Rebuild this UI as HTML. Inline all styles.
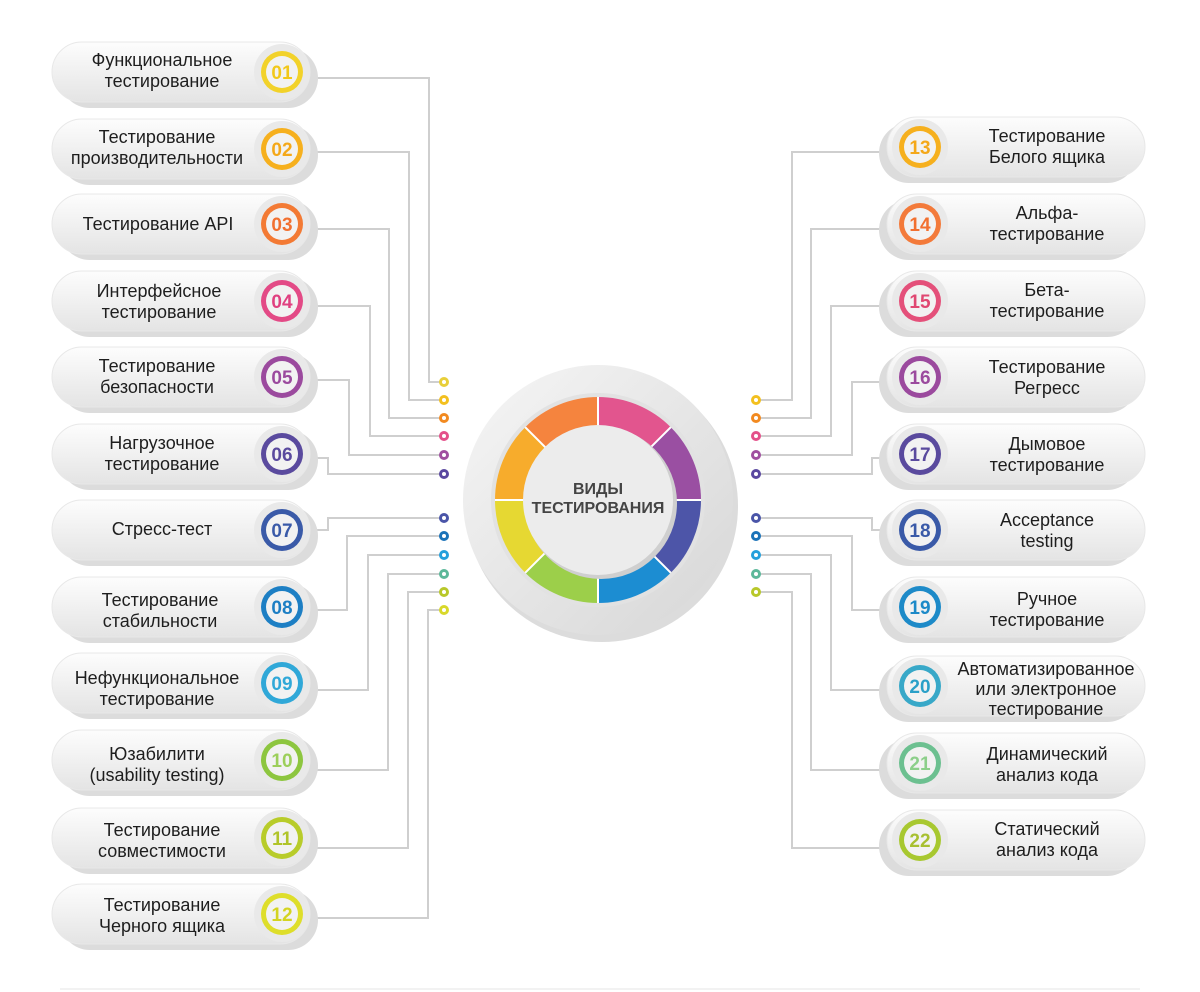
<!DOCTYPE html>
<html><head><meta charset="utf-8"><style>
html,body{margin:0;padding:0;background:#fff;}
svg{display:block;}
text{font-family:"Liberation Sans",sans-serif;}
.t{font-size:18px;fill:#1e1e1e;text-anchor:middle;}
.n{font-size:19px;font-weight:bold;text-anchor:middle;}
.l{fill:none;stroke:#cfcfcf;stroke-width:2;}
</style></head><body>
<svg width="1200" height="992" viewBox="0 0 1200 992">
<defs>
<linearGradient id="pg" x1="0" y1="0" x2="0" y2="1"><stop offset="0" stop-color="#fdfdfd"/><stop offset="1" stop-color="#e4e4e4"/></linearGradient>
<linearGradient id="og" x1="0" y1="0" x2="1" y2="1"><stop offset="0" stop-color="#f6f6f6"/><stop offset="1" stop-color="#d6d6d6"/></linearGradient>
<g id="pill"><rect x="8" y="6" width="258" height="60" rx="30" fill="#dcdcdc"/><rect x="0" y="0" width="258" height="60" rx="30" fill="url(#pg)" stroke="#e8e8e8"/></g>
<g id="pillR"><rect x="-8" y="6" width="258" height="60" rx="30" fill="#dcdcdc"/><rect x="0" y="0" width="258" height="60" rx="30" fill="url(#pg)" stroke="#e8e8e8"/></g>
</defs>
<rect x="60" y="988" width="1080" height="2" fill="#f2f2f2"/>

<path class="l" d="M312 78H429V382H444"/>
<path class="l" d="M312 152H409V400H444"/>
<path class="l" d="M312 229H389V418H444"/>
<path class="l" d="M312 306H370V436H444"/>
<path class="l" d="M312 380H349V455H444"/>
<path class="l" d="M312 458H328V474H444"/>
<path class="l" d="M312 530H328V518H444"/>
<path class="l" d="M312 610H347V536H444"/>
<path class="l" d="M312 690H368V555H444"/>
<path class="l" d="M312 770H388V574H444"/>
<path class="l" d="M312 848H408V592H444"/>
<path class="l" d="M312 918H428V610H444"/>
<path class="l" d="M756 400H792V152H886"/>
<path class="l" d="M756 418H811V229H886"/>
<path class="l" d="M756 436H831V306H886"/>
<path class="l" d="M756 455H852V382H886"/>
<path class="l" d="M756 474H872V458H886"/>
<path class="l" d="M756 518H872V530H886"/>
<path class="l" d="M756 536H852V610H886"/>
<path class="l" d="M756 555H831V690H886"/>
<path class="l" d="M756 574H811V770H886"/>
<path class="l" d="M756 592H792V848H886"/>

<g stroke="none">
<circle cx="444" cy="382" r="5" fill="#e8cf3a"/><circle cx="444" cy="400" r="5" fill="#f3c01e"/><circle cx="444" cy="418" r="5" fill="#f28a20"/><circle cx="444" cy="436" r="5" fill="#e4508a"/><circle cx="444" cy="455" r="5" fill="#a04fa0"/><circle cx="444" cy="474" r="5" fill="#5a48a0"/>
<circle cx="444" cy="518" r="5" fill="#4a55a8"/><circle cx="444" cy="536" r="5" fill="#1a72b8"/><circle cx="444" cy="555" r="5" fill="#25a0dc"/><circle cx="444" cy="574" r="5" fill="#5cb89a"/><circle cx="444" cy="592" r="5" fill="#b8c82a"/><circle cx="444" cy="610" r="5" fill="#d8d82a"/>
<circle cx="756" cy="400" r="5" fill="#f3c01e"/><circle cx="756" cy="418" r="5" fill="#f28a20"/><circle cx="756" cy="436" r="5" fill="#e4508a"/><circle cx="756" cy="455" r="5" fill="#a04fa0"/><circle cx="756" cy="474" r="5" fill="#5a48a0"/>
<circle cx="756" cy="518" r="5" fill="#4a55a8"/><circle cx="756" cy="536" r="5" fill="#1a72b8"/><circle cx="756" cy="555" r="5" fill="#25a0dc"/><circle cx="756" cy="574" r="5" fill="#5cb89a"/><circle cx="756" cy="592" r="5" fill="#b8c82a"/>
</g>
<g fill="#fff">
<circle cx="444" cy="382" r="2"/><circle cx="444" cy="400" r="2"/><circle cx="444" cy="418" r="2"/><circle cx="444" cy="436" r="2"/><circle cx="444" cy="455" r="2"/><circle cx="444" cy="474" r="2"/><circle cx="444" cy="518" r="2"/><circle cx="444" cy="536" r="2"/><circle cx="444" cy="555" r="2"/><circle cx="444" cy="574" r="2"/><circle cx="444" cy="592" r="2"/><circle cx="444" cy="610" r="2"/>
<circle cx="756" cy="400" r="2"/><circle cx="756" cy="418" r="2"/><circle cx="756" cy="436" r="2"/><circle cx="756" cy="455" r="2"/><circle cx="756" cy="474" r="2"/><circle cx="756" cy="518" r="2"/><circle cx="756" cy="536" r="2"/><circle cx="756" cy="555" r="2"/><circle cx="756" cy="574" r="2"/><circle cx="756" cy="592" r="2"/>
</g>

<circle cx="602" cy="506" r="136" fill="#dcdcdc"/>
<circle cx="598" cy="500" r="135" fill="url(#og)"/>
<circle cx="598" cy="500" r="107" fill="#e2e2e2"/>
<path d="M598 500L598 397A103 103 0 0 1 670.8 427.2Z" fill="#e2558e"/>
<path d="M598 500L670.8 427.2A103 103 0 0 1 701 500Z" fill="#9a4fa2"/>
<path d="M598 500L701 500A103 103 0 0 1 670.8 572.8Z" fill="#4d55a8"/>
<path d="M598 500L670.8 572.8A103 103 0 0 1 598 603Z" fill="#1c8dd2"/>
<path d="M598 500L598 603A103 103 0 0 1 525.2 572.8Z" fill="#9ccf4a"/>
<path d="M598 500L525.2 572.8A103 103 0 0 1 495 500Z" fill="#e6d832"/>
<path d="M598 500L495 500A103 103 0 0 1 525.2 427.2Z" fill="#f7ac2c"/>
<path d="M598 500L525.2 427.2A103 103 0 0 1 598 397Z" fill="#f5843e"/>
<g stroke="#fff" stroke-width="2"><line x1="598" y1="397" x2="598" y2="603"/><line x1="495" y1="500" x2="701" y2="500"/><line x1="525.2" y1="427.2" x2="670.8" y2="572.8"/><line x1="670.8" y1="427.2" x2="525.2" y2="572.8"/></g>
<circle cx="601" cy="503" r="76" fill="#cfcfcf"/>
<circle cx="598" cy="500" r="75" fill="#ececec"/>
<text x="598" y="494" text-anchor="middle" font-size="16" font-weight="bold" fill="#444">ВИДЫ</text>
<text x="598" y="513" text-anchor="middle" font-size="16" font-weight="bold" fill="#444">ТЕСТИРОВАНИЯ</text>

<use href="#pill" x="52" y="42"/><use href="#pill" x="52" y="119"/><use href="#pill" x="52" y="194"/><use href="#pill" x="52" y="271"/><use href="#pill" x="52" y="347"/><use href="#pill" x="52" y="424"/><use href="#pill" x="52" y="500"/><use href="#pill" x="52" y="577"/><use href="#pill" x="52" y="653"/><use href="#pill" x="52" y="730"/><use href="#pill" x="52" y="808"/><use href="#pill" x="52" y="884"/>
<use href="#pillR" x="887" y="117"/><use href="#pillR" x="887" y="194"/><use href="#pillR" x="887" y="271"/><use href="#pillR" x="887" y="347"/><use href="#pillR" x="887" y="424"/><use href="#pillR" x="887" y="500"/><use href="#pillR" x="887" y="577"/><use href="#pillR" x="887" y="656"/><use href="#pillR" x="887" y="733"/><use href="#pillR" x="887" y="810"/>

<g>
<circle cx="282" cy="72" r="28" fill="#e9e9e9"/><circle cx="282" cy="72" r="21" fill="#f2d22a"/><circle cx="282" cy="72" r="16" fill="#f2f2f2"/><text class="n" x="282" y="79" fill="#f2c81a">01</text>
<circle cx="282" cy="149" r="28" fill="#e9e9e9"/><circle cx="282" cy="149" r="21" fill="#f6b01e"/><circle cx="282" cy="149" r="16" fill="#f2f2f2"/><text class="n" x="282" y="156" fill="#f4a81a">02</text>
<circle cx="282" cy="224" r="28" fill="#e9e9e9"/><circle cx="282" cy="224" r="21" fill="#f37a34"/><circle cx="282" cy="224" r="16" fill="#f2f2f2"/><text class="n" x="282" y="231" fill="#f27030">03</text>
<circle cx="282" cy="301" r="28" fill="#e9e9e9"/><circle cx="282" cy="301" r="21" fill="#e34a86"/><circle cx="282" cy="301" r="16" fill="#f2f2f2"/><text class="n" x="282" y="308" fill="#e04080">04</text>
<circle cx="282" cy="377" r="28" fill="#e9e9e9"/><circle cx="282" cy="377" r="21" fill="#9b4a9e"/><circle cx="282" cy="377" r="16" fill="#f2f2f2"/><text class="n" x="282" y="384" fill="#9b4a9e">05</text>
<circle cx="282" cy="454" r="28" fill="#e9e9e9"/><circle cx="282" cy="454" r="21" fill="#5a4a9e"/><circle cx="282" cy="454" r="16" fill="#f2f2f2"/><text class="n" x="282" y="461" fill="#5a4a9e">06</text>
<circle cx="282" cy="530" r="28" fill="#e9e9e9"/><circle cx="282" cy="530" r="21" fill="#3a5aa8"/><circle cx="282" cy="530" r="16" fill="#f2f2f2"/><text class="n" x="282" y="537" fill="#3a5aa8">07</text>
<circle cx="282" cy="607" r="28" fill="#e9e9e9"/><circle cx="282" cy="607" r="21" fill="#1d7fc4"/><circle cx="282" cy="607" r="16" fill="#f2f2f2"/><text class="n" x="282" y="614" fill="#1d7fc4">08</text>
<circle cx="282" cy="683" r="28" fill="#e9e9e9"/><circle cx="282" cy="683" r="21" fill="#30a8d8"/><circle cx="282" cy="683" r="16" fill="#f2f2f2"/><text class="n" x="282" y="690" fill="#30a8d8">09</text>
<circle cx="282" cy="760" r="28" fill="#e9e9e9"/><circle cx="282" cy="760" r="21" fill="#8dc63f"/><circle cx="282" cy="760" r="16" fill="#f2f2f2"/><text class="n" x="282" y="767" fill="#9ccf5a">10</text>
<circle cx="282" cy="838" r="28" fill="#e9e9e9"/><circle cx="282" cy="838" r="21" fill="#b8cc2a"/><circle cx="282" cy="838" r="16" fill="#f2f2f2"/><text class="n" x="282" y="845" fill="#b0c42a">11</text>
<circle cx="282" cy="914" r="28" fill="#e9e9e9"/><circle cx="282" cy="914" r="21" fill="#dede2a"/><circle cx="282" cy="914" r="16" fill="#f2f2f2"/><text class="n" x="282" y="921" fill="#d4d420">12</text>
</g>
<g>
<circle cx="920" cy="147" r="28" fill="#e9e9e9"/><circle cx="920" cy="147" r="21" fill="#f6b01e"/><circle cx="920" cy="147" r="16" fill="#f2f2f2"/><text class="n" x="920" y="154" fill="#f4a81a">13</text>
<circle cx="920" cy="224" r="28" fill="#e9e9e9"/><circle cx="920" cy="224" r="21" fill="#f37a3a"/><circle cx="920" cy="224" r="16" fill="#f2f2f2"/><text class="n" x="920" y="231" fill="#f27030">14</text>
<circle cx="920" cy="301" r="28" fill="#e9e9e9"/><circle cx="920" cy="301" r="21" fill="#e4507a"/><circle cx="920" cy="301" r="16" fill="#f2f2f2"/><text class="n" x="920" y="308" fill="#e04872">15</text>
<circle cx="920" cy="377" r="28" fill="#e9e9e9"/><circle cx="920" cy="377" r="21" fill="#9b4a9e"/><circle cx="920" cy="377" r="16" fill="#f2f2f2"/><text class="n" x="920" y="384" fill="#9b4a9e">16</text>
<circle cx="920" cy="454" r="28" fill="#e9e9e9"/><circle cx="920" cy="454" r="21" fill="#5a4a9e"/><circle cx="920" cy="454" r="16" fill="#f2f2f2"/><text class="n" x="920" y="461" fill="#5a4a9e">17</text>
<circle cx="920" cy="530" r="28" fill="#e9e9e9"/><circle cx="920" cy="530" r="21" fill="#3a5aa8"/><circle cx="920" cy="530" r="16" fill="#f2f2f2"/><text class="n" x="920" y="537" fill="#3a5aa8">18</text>
<circle cx="920" cy="607" r="28" fill="#e9e9e9"/><circle cx="920" cy="607" r="21" fill="#1d8ac8"/><circle cx="920" cy="607" r="16" fill="#f2f2f2"/><text class="n" x="920" y="614" fill="#1d8ac8">19</text>
<circle cx="920" cy="686" r="28" fill="#e9e9e9"/><circle cx="920" cy="686" r="21" fill="#38a8c8"/><circle cx="920" cy="686" r="16" fill="#f2f2f2"/><text class="n" x="920" y="693" fill="#2aa0c8">20</text>
<circle cx="920" cy="763" r="28" fill="#e9e9e9"/><circle cx="920" cy="763" r="21" fill="#6cc090"/><circle cx="920" cy="763" r="16" fill="#f2f2f2"/><text class="n" x="920" y="770" fill="#8ccf8a">21</text>
<circle cx="920" cy="840" r="28" fill="#e9e9e9"/><circle cx="920" cy="840" r="21" fill="#a8c830"/><circle cx="920" cy="840" r="16" fill="#f2f2f2"/><text class="n" x="920" y="847" fill="#a8c030">22</text>
</g>

<g>
<text class="t" x="162" y="66">Функциональное</text><text class="t" x="162" y="87">тестирование</text>
<text class="t" x="157" y="143">Тестирование</text><text class="t" x="157" y="164">производительности</text>
<text class="t" x="158" y="230">Тестирование API</text>
<text class="t" x="159" y="297">Интерфейсное</text><text class="t" x="159" y="318">тестирование</text>
<text class="t" x="157" y="372">Тестирование</text><text class="t" x="157" y="393">безопасности</text>
<text class="t" x="162" y="449">Нагрузочное</text><text class="t" x="162" y="470">тестирование</text>
<text class="t" x="162" y="535">Стресс-тест</text>
<text class="t" x="160" y="606">Тестирование</text><text class="t" x="160" y="627">стабильности</text>
<text class="t" x="157" y="684">Нефункциональное</text><text class="t" x="157" y="705">тестирование</text>
<text class="t" x="157" y="760">Юзабилити</text><text class="t" x="157" y="781">(usability testing)</text>
<text class="t" x="162" y="836">Тестирование</text><text class="t" x="162" y="857">совместимости</text>
<text class="t" x="162" y="911">Тестирование</text><text class="t" x="162" y="932">Черного ящика</text>
</g>
<g>
<text class="t" x="1047" y="142">Тестирование</text><text class="t" x="1047" y="163">Белого ящика</text>
<text class="t" x="1047" y="219">Альфа-</text><text class="t" x="1047" y="240">тестирование</text>
<text class="t" x="1047" y="296">Бета-</text><text class="t" x="1047" y="317">тестирование</text>
<text class="t" x="1047" y="373">Тестирование</text><text class="t" x="1047" y="394">Регресс</text>
<text class="t" x="1047" y="450">Дымовое</text><text class="t" x="1047" y="471">тестирование</text>
<text class="t" x="1047" y="526">Acceptance</text><text class="t" x="1047" y="547">testing</text>
<text class="t" x="1047" y="605">Ручное</text><text class="t" x="1047" y="626">тестирование</text>
<text class="t" x="1046" y="675">Автоматизированное</text><text class="t" x="1046" y="695">или электронное</text><text class="t" x="1046" y="715">тестирование</text>
<text class="t" x="1047" y="760">Динамический</text><text class="t" x="1047" y="781">анализ кода</text>
<text class="t" x="1047" y="835">Статический</text><text class="t" x="1047" y="856">анализ кода</text>
</g>
</svg>
</body></html>
